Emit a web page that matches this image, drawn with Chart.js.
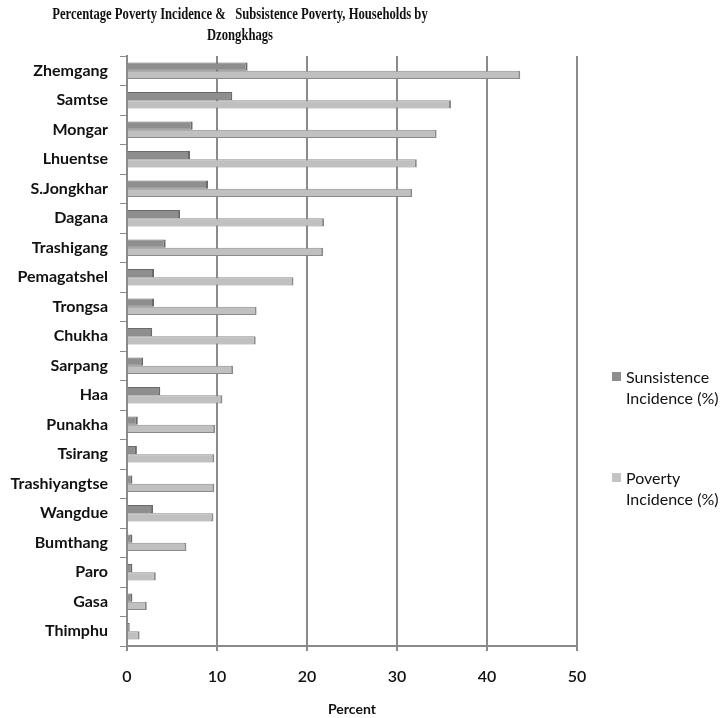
<!DOCTYPE html>
<html>
<head>
<meta charset="utf-8">
<script src="https://cdn.jsdelivr.net/npm/chart.js@4"></script>
<style>
  body { margin: 0; background: #fff; }
  #wrap { position: relative; width: 725px; height: 718px; }
  #title {
    position: absolute; left: -60px; top: 3px; width: 600px; white-space: nowrap;
    font: bold 16px "Liberation Serif", serif; text-align: center;
    line-height: 21px; color: #111; transform: scaleX(0.79); transform-origin: 300px 0;
  }
  .leg { position: absolute; left: 612px; font: 16px Lato, sans-serif; color: #111; line-height: 21px; }
  .leg span { position: absolute; left: 0; top: 6px; width: 9px; height: 9px; }
  .leg div { margin-left: 14px; }
</style>
</head>
<body>
<div id="wrap">
  <canvas id="myChart" width="725" height="718"></canvas>
  <div id="title">Percentage Poverty Incidence &amp;&nbsp;&nbsp; Subsistence Poverty, Households by<br>Dzongkhags</div>
  <div class="leg" style="top:366px"><span style="background:#8e8e8e"></span><div>Sunsistence<br>Incidence (%)</div></div>
  <div class="leg" style="top:467px"><span style="background:#c4c4c4"></span><div>Poverty<br>Incidence (%)</div></div>
</div>
<script>
// 종(dzongkhag)별 데이터
const dzongkhags = ['Zhemgang', 'Samtse', 'Mongar', 'Lhuentse', 'S.Jongkhar', 'Dagana', 'Trashigang',
  'Pemagatshel', 'Trongsa', 'Chukha', 'Sarpang', 'Haa', 'Punakha', 'Tsirang', 'Trashiyangtse',
  'Wangdue', 'Bumthang', 'Paro', 'Gasa', 'Thimphu'];
const subsistence = [13.4, 11.7, 7.3, 7.0, 9.0, 5.9, 4.3, 3.0, 3.0, 2.8, 1.8, 3.7, 1.2, 1.1, 0.6,
  2.9, 0.6, 0.6, 0.6, 0.3];
const poverty = [43.7, 36.0, 34.4, 32.2, 31.7, 21.9, 21.8, 18.5, 14.4, 14.3, 11.8, 10.6, 9.8, 9.7, 9.7,
  9.6, 6.6, 3.2, 2.2, 1.4];
const xTicks = [0, 10, 20, 30, 40, 50];

const ctx = document.getElementById('myChart');

const chart = new Chart(ctx, {
  type: 'bar',
  data: {
    labels: dzongkhags,
    datasets: [
      {
        label: 'Sunsistence Incidence (%)',
        data: subsistence,
        backgroundColor: '#8e8e8e',
        borderColor: '#6a6a6a',
        borderWidth: { top: 1, right: 2, bottom: 1, left: 0 },
        borderSkipped: false,
      },
      {
        label: 'Poverty Incidence (%)',
        data: poverty,
        backgroundColor: '#c0c0c0',
        borderColor: '#8a8a8a',
        borderWidth: { top: 1, right: 2, bottom: 1, left: 0 },
        borderSkipped: false,
      },
    ],
  },
  options: {
    indexAxis: 'y',
    responsive: false,
    animation: false,
    categoryPercentage: 0.56,
    barPercentage: 1,
    layout: { padding: { top: 56, right: 148, bottom: 0, left: 0 } },
    plugins: {
      legend: { display: false },
      tooltip: { enabled: false },
    },
    scales: {
      x: {
        min: 0,
        max: 50,
        afterBuildTicks: (scale) => { scale.ticks = xTicks.map(v => ({ value: v })); },
        grid: { color: '#8a8a8a', lineWidth: 2, tickLength: 5, drawTicks: true },
        border: { display: true, color: '#8a8a8a', width: 2 },
        ticks: { color: '#111', font: { family: 'Lato', size: 16, weight: '600' }, padding: 16 },
        title: { display: true, text: 'Percent', color: '#111', font: { family: 'Lato', size: 14, weight: 'bold' }, padding: { top: 10, bottom: 0 } },
        afterFit: (scale) => { scale.height = 72; },
      },
      y: {
        grid: { drawOnChartArea: false, drawTicks: true, tickLength: 7, color: '#8a8a8a', lineWidth: 1 },
        border: { display: true, color: '#8a8a8a', width: 2 },
        ticks: { color: '#111', font: { family: 'Lato', size: 16, weight: 'bold' }, padding: 12 },
        afterFit: (scale) => { scale.width = 127; },
      },
    },
  },
});
</script>
</body>
</html>
